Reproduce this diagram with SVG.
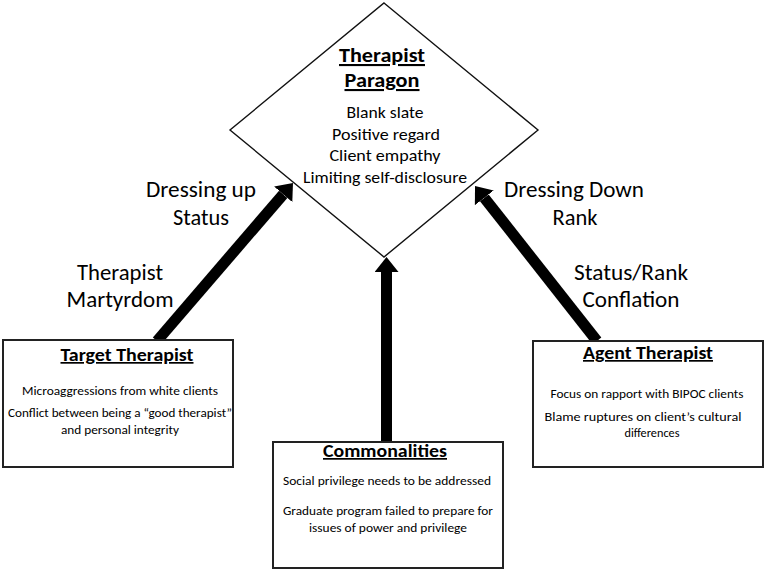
<svg xmlns="http://www.w3.org/2000/svg" width="767" height="572" viewBox="0 0 767 572">
<style>
text{font-family:Carlito,Lato,"Liberation Sans",sans-serif;fill:#000;text-anchor:middle}
.lab{font-size:22px}
.dt{font-size:21px;font-weight:bold;text-decoration:underline}
.db{font-size:17px}
.bt{font-size:17px;font-weight:bold;text-decoration:underline}
.bb{font-size:12.5px}
.box{fill:#fff;stroke:#222;stroke-width:2}
.dia{fill:#fff;stroke:#111;stroke-width:1.4}
.arr{stroke:#000;stroke-width:11;fill:none}
</style>
<defs>
<marker id="ah" markerUnits="userSpaceOnUse" viewBox="0 0 15 24" refX="0" refY="12" markerWidth="15" markerHeight="24" orient="auto">
<path d="M0,0 L15,12 L0,24 z" fill="#000"/>
</marker>
</defs>
<rect width="767" height="572" fill="#fff"/>
<g id="paragon">
<polygon class="dia" points="384,3 538,130 384,257 230,130"/>
<text class="dt" x="382" y="62" textLength="86" lengthAdjust="spacingAndGlyphs">Therapist</text>
<text class="dt" x="382" y="87" textLength="75" lengthAdjust="spacingAndGlyphs">Paragon</text>
<text class="db" x="385" y="118" textLength="77" lengthAdjust="spacingAndGlyphs">Blank slate</text>
<text class="db" x="386" y="140" textLength="108" lengthAdjust="spacingAndGlyphs">Positive regard</text>
<text class="db" x="385" y="161" textLength="111" lengthAdjust="spacingAndGlyphs">Client empathy</text>
<text class="db" x="385" y="183" textLength="164" lengthAdjust="spacingAndGlyphs">Limiting self-disclosure</text>
</g>
<g id="connectors">
<line class="arr" x1="157" y1="341" x2="283.2" y2="194.3" marker-end="url(#ah)"/>
<line class="arr" x1="597" y1="341" x2="484.3" y2="197.8" marker-end="url(#ah)"/>
<line class="arr" x1="386.5" y1="442" x2="386.5" y2="272" marker-end="url(#ah)"/>
</g>
<g id="labels">
<text class="lab" x="201" y="197" textLength="110" lengthAdjust="spacingAndGlyphs">Dressing up</text>
<text class="lab" x="201" y="225" textLength="56" lengthAdjust="spacingAndGlyphs">Status</text>
<text class="lab" x="120" y="280" textLength="86" lengthAdjust="spacingAndGlyphs">Therapist</text>
<text class="lab" x="120" y="307" textLength="107" lengthAdjust="spacingAndGlyphs">Martyrdom</text>
<text class="lab" x="574" y="197" textLength="140" lengthAdjust="spacingAndGlyphs">Dressing Down</text>
<text class="lab" x="575" y="225" textLength="45" lengthAdjust="spacingAndGlyphs">Rank</text>
<text class="lab" x="631" y="280" textLength="114" lengthAdjust="spacingAndGlyphs">Status/Rank</text>
<text class="lab" x="631" y="307" textLength="97" lengthAdjust="spacingAndGlyphs">Conflation</text>
</g>
<g id="target">
<rect class="box" x="3" y="340" width="230" height="127"/>
<text class="bt" x="127" y="361" textLength="133" lengthAdjust="spacingAndGlyphs">Target Therapist</text>
<text class="bb" x="120" y="395" textLength="196" lengthAdjust="spacingAndGlyphs">Microaggressions from white clients</text>
<text class="bb" x="120" y="417" textLength="224" lengthAdjust="spacingAndGlyphs">Conflict between being a “good therapist”</text>
<text class="bb" x="120" y="434" textLength="118" lengthAdjust="spacingAndGlyphs">and personal integrity</text>
</g>
<g id="agent">
<rect class="box" x="533" y="341" width="230" height="126"/>
<text class="bt" x="648" y="359" textLength="130" lengthAdjust="spacingAndGlyphs">Agent Therapist</text>
<text class="bb" x="647" y="398" textLength="193" lengthAdjust="spacingAndGlyphs">Focus on rapport with BIPOC clients</text>
<text class="bb" x="643" y="421" textLength="197" lengthAdjust="spacingAndGlyphs">Blame ruptures on client’s cultural</text>
<text class="bb" x="652" y="437" textLength="55" lengthAdjust="spacingAndGlyphs">differences</text>
</g>
<g id="commonalities">
<rect class="box" x="273" y="442" width="230" height="126"/>
<text class="bt" x="385" y="457" textLength="124" lengthAdjust="spacingAndGlyphs">Commonalities</text>
<text class="bb" x="387" y="485" textLength="208" lengthAdjust="spacingAndGlyphs">Social privilege needs to be addressed</text>
<text class="bb" x="388" y="515" textLength="210" lengthAdjust="spacingAndGlyphs">Graduate program failed to prepare for</text>
<text class="bb" x="388" y="532" textLength="158" lengthAdjust="spacingAndGlyphs">issues of power and privilege</text>
</g>
</svg>
